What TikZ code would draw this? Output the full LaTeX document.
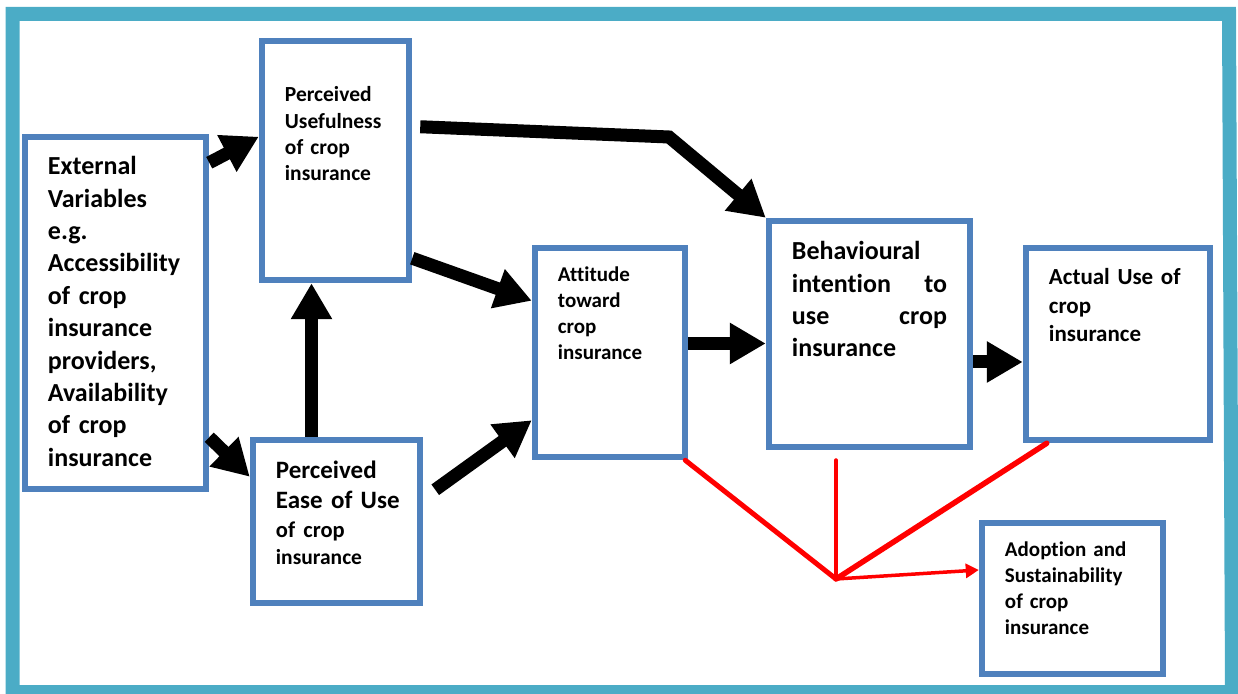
\documentclass[tikz,border=0pt]{standalone}
\usepackage{fontspec}
\setmainfont[Ligatures=NoCommon]{Carlito}
\usetikzlibrary{arrows.meta, positioning, calc}
\definecolor{BoxBlue}{HTML}{4F81BD}
\definecolor{FrameTeal}{HTML}{4BACC6}
\definecolor{LinkRed}{HTML}{FF0000}

\begin{document}
\begin{tikzpicture}[x=1pt, y=1pt,
    box/.style={draw=BoxBlue, line width=6.5pt, inner sep=0pt},
    boxtext/.style={anchor=base west, inner sep=0pt, align=left},
    flow/.style={line width=13pt, -{Triangle[length=36pt, width=39pt]}},
    redline/.style={draw=LinkRed, line width=5pt, line cap=round}]
  \useasboundingbox (0,0) rectangle (1238,693);
  \draw[FrameTeal, line width=14pt] (12.5,679) -- (1229,679) -- (1232,1) -- (12.5,1) -- cycle;

  % boxes
  \node[box, minimum width=181pt, minimum height=352pt] (ext) at (115.5,380) {};
  \node[box, minimum width=147pt, minimum height=239pt] (pu) at (335.5,532.5) {};
  \node[box, minimum width=167pt, minimum height=163pt] (peou) at (336.5,171.5) {};
  \node[box, minimum width=150pt, minimum height=209pt] (att) at (610,340.5) {};
  \node[box, minimum width=201pt, minimum height=226pt] (bi) at (869.5,359) {};
  \node[box, minimum width=184pt, minimum height=192pt] (act) at (1118,349) {};
  \node[box, minimum width=181pt, minimum height=151pt] (adopt) at (1072.5,94.5) {};

  % texts
  \node[boxtext, text width=150pt, font=\fontsize{26}{32.4}\selectfont\bfseries] (ext-text) at ([shift={(26,-41)}]ext.north west)
    {External\\ Variables\\ e.g.\\ Accessibility\\ of crop\\ insurance\\ providers,\\ Availability\\ of crop\\ insurance};
  \node[boxtext, text width=115pt, font=\fontsize{21.5}{26.3}\selectfont\bfseries] (pu-text) at ([shift={(26,-64)}]pu.north west)
    {Perceived\\ Usefulness\\ of crop\\ insurance};
  \node[boxtext, text width=135pt, font=\fontsize{25}{30}\selectfont\bfseries] (peou-text) at ([shift={(26,-42)}]peou.north west)
    {Perceived\\ Ease of Use\\[-1pt] {\fontsize{22.5}{29}\selectfont of crop}\\[-3pt] {\fontsize{21.5}{27}\selectfont insurance}};
  \node[boxtext, text width=120pt, font=\fontsize{21}{26}\selectfont\bfseries] (att-text) at ([shift={(26,-37)}]att.north west)
    {Attitude\\ toward\\ crop\\ insurance};
  \node[boxtext, text width=155pt, font=\fontsize{26}{32.4}\selectfont\bfseries] (bi-text) at ([shift={(26,-42)}]bi.north west)
    {Behavioural\\ intention\hfill to\\ use\hfill crop\\ insurance};
  \node[boxtext, text width=155pt, font=\fontsize{23}{28.5}\selectfont\bfseries] (act-text) at ([shift={(26,-40)}]act.north west)
    {Actual Use of\\ crop\\ insurance};
  \node[boxtext, text width=150pt, font=\fontsize{21}{26}\selectfont\bfseries] (adopt-text) at ([shift={(26,-37)}]adopt.north west)
    {Adoption and\\ Sustainability\\ of crop\\ insurance};

  % black arrows
  \draw[flow] ([yshift=-29]ext.north east) -- ([yshift=-99]pu.north west);
  \draw[flow] ([yshift=55]ext.south east) -- ([yshift=-40]peou.north west);
  \draw[flow] ([xshift=-25]peou.north) -- ([xshift=-25]peou.north |- pu.south);
  \draw[flow] ([yshift=25]pu.south east) -- ([yshift=-56]att.north west);
  \draw[flow] ([shift={(12,-53)}]peou.north east) -- ([yshift=40]att.south west);
  \coordinate (bend) at (669,556);
  \draw[flow] ([shift={(8,-89)}]pu.north east) -- (bend) -- (bi.north west);
  \draw[flow] ([yshift=9]att.east) -- ([yshift=9]att.east -| bi.west);
  \draw[flow] ([yshift=-28]bi.east) -- ([yshift=-28]bi.east -| act.west);

  % red links
  \coordinate (hub) at (836,114);
  \draw[redline] ([xshift=-3]att.south east) -- (hub);
  \draw[redline, line width=4pt] ($(bi.south -| hub)+(0,-10)$) -- (hub);
  \draw[redline, line width=5.5pt] ([xshift=24]act.south west) -- (hub);
  \draw[redline, line width=3.5pt, -{Triangle[length=13pt, width=14pt]}] (hub) -- ([yshift=28.5]adopt.west);
\end{tikzpicture}
\end{document}
